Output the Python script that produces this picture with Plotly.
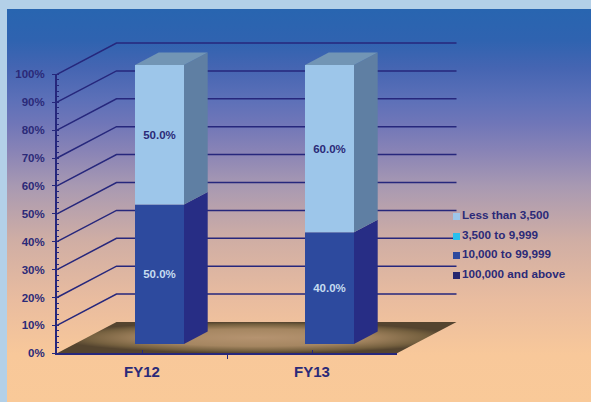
import plotly.graph_objects as go

# ---- data ----
categories = ["FY12", "FY13"]
series_names = ["100,000 and above", "10,000 to 99,999", "3,500 to 9,999", "Less than 3,500"]
series_values = {
    "100,000 and above": [0, 0],
    "10,000 to 99,999": [50.0, 40.0],
    "3,500 to 9,999": [0, 0],
    "Less than 3,500": [50.0, 60.0],
}
y_ticks = list(range(0, 101, 10))

# ---- styles ----
W, H = 591, 402
PLOT_L, PLOT_R, PLOT_T, PLOT_B = 57, 397, 74.3, 353.3
NAVY = "#26277c"
FRONT = {"100,000 and above": "#26276f", "10,000 to 99,999": "#2d4a9e",
         "3,500 to 9,999": "#29bfec", "Less than 3,500": "#9dc6ea"}
SIDE = {"100,000 and above": "#1f2060", "10,000 to 99,999": "#272d85",
        "3,500 to 9,999": "#2090b8", "Less than 3,500": "#5f7fa3"}
TOP_FACE = {"Less than 3,500": "#7295b5", "10,000 to 99,999": "#2a3a90"}
LABEL_COLOR = {"10,000 to 99,999": "#c5dcf0", "Less than 3,500": "#2b2a78"}
LEGEND_ROWS = [216.5, 236.5, 255.5, 275.5]

px_x = (PLOT_R - PLOT_L) / len(categories)
px_y = (PLOT_B - PLOT_T) / 100
WALL_DX, WALL_DY = 59.5 / px_x, 31.3 / px_y     # depth of the chart box
BAR_SHIFT, BAR_LIFT = 17.5 / px_x, 9.4 / px_y   # front face of bars inside that box
BAR_W = 49 / px_x
SIDE_DX, SIDE_DY = 23.7 / px_x, 12.5 / px_y

# full-figure ranges that keep the value scale of the visible axes
FULL_X = [-PLOT_L / px_x, (W - PLOT_L) / px_x]
FULL_Y = [-(H - PLOT_B) / px_y, (PLOT_B) / px_y]

fig = go.Figure()

# background panel (pixel subplot)
fig.add_trace(go.Scatter(
    x=[7, W, W, 7, 7], y=[9, 9, H, H, 9], mode="lines", fill="toself", line=dict(width=0),
    fillgradient=dict(type="vertical", colorscale=[
        [0.00, "#f9c998"], [0.12, "#f8c89a"], [0.26, "#e9bc9f"], [0.41, "#d0aea4"],
        [0.55, "#a899b2"], [0.64, "#8883b6"], [0.71, "#6f76b8"], [0.77, "#5c70b8"],
        [0.85, "#4565b2"], [0.92, "#2f63b0"], [1.00, "#2865b0"]]),
    hoverinfo="skip", showlegend=False, xaxis="x", yaxis="y"))

# floor
x_end = len(categories)
fig.add_trace(go.Scatter(
    x=[0, WALL_DX, x_end + WALL_DX, x_end, 0], y=[0, WALL_DY, WALL_DY, 0, 0],
    mode="lines", fill="toself", line=dict(width=0),
    fillgradient=dict(type="radial", colorscale=[
        [0, "#b59370"], [0.55, "#a58661"], [0.85, "#75603f"], [1, "#54442f"]]),
    hoverinfo="skip", showlegend=False, xaxis="x2", yaxis="y2"))

# wall grid lines
for t in y_ticks[1:]:
    fig.add_trace(go.Scatter(
        x=[0, WALL_DX, x_end + WALL_DX], y=[t, t + WALL_DY, t + WALL_DY],
        mode="lines", line=dict(color=NAVY, width=1.5), hoverinfo="skip",
        showlegend=False, xaxis="x2", yaxis="y2"))

# bars: extruded faces + front faces
for i, cat in enumerate(categories):
    base = BAR_LIFT
    right = i + 0.5 + BAR_SHIFT + BAR_W / 2
    left = right - BAR_W
    last = None
    for name in series_names:
        v = series_values[name][i]
        if v == 0:
            continue
        fig.add_trace(go.Scatter(
            x=[right, right + SIDE_DX, right + SIDE_DX, right, right],
            y=[base, base + SIDE_DY, base + v + SIDE_DY, base + v, base],
            mode="lines", fill="toself", fillcolor=SIDE[name], line=dict(width=0),
            hoverinfo="skip", showlegend=False, xaxis="x3", yaxis="y3"))
        base += v
        last = name
    fig.add_trace(go.Scatter(
        x=[left, left + SIDE_DX, right + SIDE_DX, right, left],
        y=[base, base + SIDE_DY, base + SIDE_DY, base, base],
        mode="lines", fill="toself", fillcolor=TOP_FACE[last], line=dict(width=0),
        hoverinfo="skip", showlegend=False, xaxis="x3", yaxis="y3"))

cum = [BAR_LIFT] * len(categories)
for name in series_names:
    vals = series_values[name]
    fig.add_trace(go.Bar(
        x=[i + 0.5 + BAR_SHIFT for i in range(len(categories))], y=vals, base=cum[:], width=BAR_W,
        marker=dict(color=FRONT[name], line=dict(width=0)), name=name,
        text=[f"{v:.1f}%" if v else "" for v in vals], textposition="inside", insidetextanchor="middle",
        textangle=0, constraintext="none",
        textfont=dict(family="Liberation Sans", size=11.5, color=LABEL_COLOR.get(name, "#2b2a78"), weight="bold"),
        showlegend=False, hovertemplate="%{y:.1f}%<extra>" + name + "</extra>",
        xaxis="x3", yaxis="y3"))
    cum = [c + v for c, v in zip(cum, vals)]

# legend (pixel subplot on top)
for name, row in zip(reversed(series_names), LEGEND_ROWS):
    fig.add_trace(go.Scatter(
        x=[456.5], y=[row], mode="markers+text", text=[name], textposition="middle right",
        marker=dict(symbol="square", size=7, color=FRONT[name], line=dict(width=0)),
        textfont=dict(family="Liberation Sans", size=11.7, color="#2b2a78", weight="bold"),
        hoverinfo="skip", showlegend=False, xaxis="x4", yaxis="y4"))

# carrier for the visible value axes
fig.add_trace(go.Scatter(x=[0], y=[0], mode="markers", marker=dict(opacity=0, size=1),
                         hoverinfo="skip", showlegend=False, xaxis="x5", yaxis="y5"))

hidden = dict(visible=False, showgrid=False, zeroline=False, fixedrange=True)
dom_x = [PLOT_L / W, PLOT_R / W]
dom_y = [1 - PLOT_B / H, 1 - PLOT_T / H]
fig.update_layout(
    width=W, height=H, autosize=False, margin=dict(l=0, r=0, t=0, b=0, pad=0, autoexpand=False),
    paper_bgcolor="#b3d0e8", plot_bgcolor="rgba(0,0,0,0)", barmode="overlay", showlegend=False,
    xaxis=dict(hidden, domain=[0, 1], range=[0, W]),
    yaxis=dict(hidden, domain=[0, 1], range=[H, 0]),
    xaxis2=dict(hidden, domain=[0, 1], range=FULL_X, anchor="y2"),
    yaxis2=dict(hidden, domain=[0, 1], range=FULL_Y, anchor="x2"),
    xaxis3=dict(hidden, domain=[0, 1], range=FULL_X, anchor="y3"),
    yaxis3=dict(hidden, domain=[0, 1], range=FULL_Y, anchor="x3"),
    xaxis4=dict(hidden, domain=[0, 1], range=[0, W], anchor="y4"),
    yaxis4=dict(hidden, domain=[0, 1], range=[H, 0], anchor="x4"),
    xaxis5=dict(domain=dom_x, range=[0, len(categories)], anchor="y5", fixedrange=True, showgrid=False, zeroline=False,
                tickmode="array", tickvals=[i + 0.5 for i in range(len(categories))], ticktext=categories,
                ticks="inside", ticklen=3, tickwidth=1, tickcolor=NAVY,
                showline=True, linecolor=NAVY, linewidth=2, ticklabelstandoff=4,
                tickfont=dict(family="Liberation Sans", size=15, color="#2b2a78", weight="bold"),
                minor=dict(ticks="outside", ticklen=4, tickwidth=1, tickcolor=NAVY,
                           tickmode="array", tickvals=list(range(len(categories) + 1)))),
    yaxis5=dict(domain=dom_y, range=[0, 100], anchor="x5", fixedrange=True, showgrid=False, zeroline=False,
                tickmode="array", tickvals=y_ticks, ticktext=[f"{t}%" for t in y_ticks],
                ticks="outside", ticklen=3, tickwidth=1, tickcolor=NAVY,
                showline=True, linecolor=NAVY, linewidth=2, ticklabelstandoff=5,
                tickfont=dict(family="Liberation Sans", size=11.5, color="#2b2a78", weight="bold"),
                minor=dict(ticks="inside", ticklen=2, tickwidth=1, tickcolor=NAVY, dtick=2)),
)
fig.write_html("out.html", config={"displayModeBar": False},
               post_script="document.body.style.margin='0';")
